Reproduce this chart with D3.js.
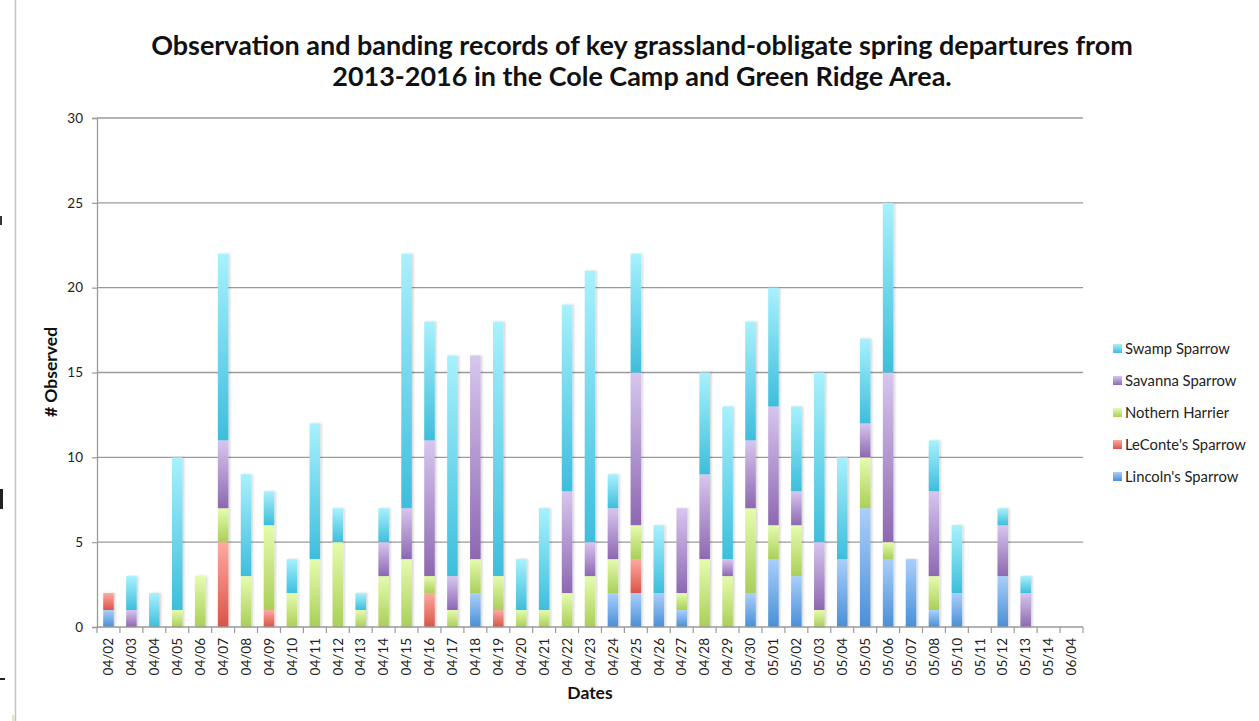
<!DOCTYPE html>
<html>
<head>
<meta charset="utf-8">
<script src="https://cdn.jsdelivr.net/npm/d3@7"></script>
<style>
  html, body { margin: 0; padding: 0; background: #fff; }
  svg { display: block; }
  text { font-family: Lato, "Open Sans", sans-serif; }
</style>
</head>
<body>
<svg id="chart" width="1259" height="721"></svg>
<script>
// Survey dates (05/09 had no entry)
const dates = ["04/02","04/03","04/04","04/05","04/06","04/07","04/08","04/09","04/10","04/11",
  "04/12","04/13","04/14","04/15","04/16","04/17","04/18","04/19","04/20","04/21",
  "04/22","04/23","04/24","04/25","04/26","04/27","04/28","04/29","04/30","05/01",
  "05/02","05/03","05/04","05/05","05/06","05/07","05/08","05/10","05/11","05/12",
  "05/13","05/14","06/04"];

// Counts per species, stacked bottom to top in this order
const lincolnsSparrow = [1,0,0,0,0,0,0,0,0,0, 0,0,0,0,0,0,2,0,0,0, 0,0,2,2,2,1,0,0,2,4, 3,0,4,7,4,4,1,2,0,3, 0,0,0];
const leContesSparrow = [1,0,0,0,0,5,0,1,0,0, 0,0,0,0,2,0,0,1,0,0, 0,0,0,2,0,0,0,0,0,0, 0,0,0,0,0,0,0,0,0,0, 0,0,0];
const northernHarrier = [0,0,0,1,3,2,3,5,2,4, 5,1,3,4,1,1,2,2,1,1, 2,3,2,2,0,1,4,3,5,2, 3,1,0,3,1,0,2,0,0,0, 0,0,0];
const savannaSparrow  = [0,1,0,0,0,4,0,0,0,0, 0,0,2,3,8,2,12,0,0,0, 6,2,3,9,0,5,5,1,4,7, 2,4,0,2,10,0,5,0,0,3, 2,0,0];
const swampSparrow    = [0,2,2,9,0,11,6,2,2,8, 2,1,2,15,7,13,0,15,3,6, 11,16,2,7,4,0,6,9,7,7, 5,10,6,5,10,0,3,4,0,1, 1,0,0];

const seriesNames = ["Lincoln's Sparrow","LeConte's Sparrow","Nothern Harrier","Savanna Sparrow","Swamp Sparrow"];
const seriesValues = [lincolnsSparrow, leContesSparrow, northernHarrier, savannaSparrow, swampSparrow];
const yTicks = [0,5,10,15,20,25,30];

const titleLines = [
  "Observation and banding records of key grassland-obligate spring departures from",
  "2013-2016 in the Cole Camp and Green Ridge Area."
];

// gradient stops per series: [top (light), bottom (dark)]
const palette = {
  "Lincoln's Sparrow": ["#a9cffb", "#4a8fd6"],
  "LeConte's Sparrow": ["#fdaaa2", "#da5447"],
  "Nothern Harrier":   ["#e6fcae", "#aacf58"],
  "Savanna Sparrow":   ["#d7c6ee", "#8d68b1"],
  "Swamp Sparrow":     ["#a8f1fd", "#3dbedc"]
};

const rows = dates.map((d, i) => {
  const r = { date: d };
  seriesNames.forEach((s, k) => r[s] = seriesValues[k][i]);
  return r;
});

const svg = d3.select("#chart");
const W = 1259, H = 721;
const plot = { left: 97, right: 1083, top: 118, bottom: 627 };

// stray page edge on the left of the capture
svg.append("line").attr("x1", 15.5).attr("x2", 15.5).attr("y1", 0).attr("y2", H)
  .attr("stroke", "#c4c4c4").attr("stroke-width", 1.5);
svg.append("rect").attr("x", 0).attr("y", 216).attr("width", 2).attr("height", 9).attr("fill", "#333");
svg.append("rect").attr("x", 0).attr("y", 489).attr("width", 3).attr("height", 20).attr("fill", "#222");
svg.append("rect").attr("x", 0).attr("y", 678).attr("width", 5).attr("height", 2).attr("fill", "#222");
svg.append("rect").attr("x", 12).attr("y", 715).attr("width", 3).attr("height", 6).attr("fill", "#e8e2d0");

const defs = svg.append("defs");
seriesNames.forEach((s, k) => {
  const g = defs.append("linearGradient").attr("id", "grad" + k)
    .attr("x1", 0).attr("y1", 0).attr("x2", 0).attr("y2", 1);
  g.append("stop").attr("offset", "0%").attr("stop-color", palette[s][0]);
  g.append("stop").attr("offset", "100%").attr("stop-color", palette[s][1]);
});
const shadow = defs.append("filter").attr("id", "shadow")
  .attr("x", "-50%").attr("y", "-10%").attr("width", "200%").attr("height", "120%");
shadow.append("feDropShadow").attr("dx", 1.5).attr("dy", 0).attr("stdDeviation", 1)
  .attr("flood-color", "#000").attr("flood-opacity", 0.18);

const x = d3.scaleBand().domain(dates).range([plot.left, plot.right]).padding(0);
const y = d3.scaleLinear().domain([0, 30]).range([plot.bottom, plot.top]);
const step = x.step();
const barW = step * 0.46;

// gridlines
svg.append("g").selectAll("line").data(yTicks.filter(t => t > 0)).join("line")
  .attr("x1", plot.left).attr("x2", plot.right)
  .attr("y1", d => y(d)).attr("y2", d => y(d))
  .attr("stroke", "#9a9a9a").attr("stroke-width", 1.3);

// y axis
const yAxis = svg.append("g").attr("transform", `translate(${plot.left},0)`)
  .call(d3.axisLeft(y).tickValues(yTicks).tickSize(5).tickPadding(9));
yAxis.select(".domain").attr("stroke", "#9a9a9a").attr("stroke-width", 1.3);
yAxis.selectAll(".tick line").attr("stroke", "#9a9a9a").attr("stroke-width", 1.2);
yAxis.selectAll(".tick text").attr("font-family", "Lato, sans-serif").attr("font-size", 13.5).attr("fill", "#222");

// stacked bars
const stack = d3.stack().keys(seriesNames)(rows);
const barsG = svg.append("g").attr("filter", "url(#shadow)");
stack.forEach((layer, k) => {
  barsG.append("g").selectAll("rect")
    .data(layer.filter(d => d[1] - d[0] > 0)).join("rect")
    .attr("x", d => x(d.data.date) + (step - barW) / 2)
    .attr("width", barW)
    .attr("y", d => y(d[1]))
    .attr("height", d => y(d[0]) - y(d[1]))
    .attr("fill", `url(#grad${k})`);
});

// x axis baseline with boundary ticks
svg.append("line").attr("x1", plot.left).attr("x2", plot.right)
  .attr("y1", plot.bottom).attr("y2", plot.bottom)
  .attr("stroke", "#9a9a9a").attr("stroke-width", 1.3);
const bounds = dates.map(d => x(d)).concat([plot.right]);
svg.append("g").selectAll("line").data(bounds).join("line")
  .attr("x1", d => d).attr("x2", d => d)
  .attr("y1", plot.bottom).attr("y2", plot.bottom + 6)
  .attr("stroke", "#9a9a9a").attr("stroke-width", 1.2);

const xAxis = svg.append("g").attr("transform", `translate(0,${plot.bottom})`)
  .call(d3.axisBottom(x).tickSize(0).tickPadding(0));
xAxis.select(".domain").remove();
xAxis.selectAll(".tick text")
  .attr("font-family", "Lato, sans-serif").attr("font-size", 13.5).attr("fill", "#222")
  .attr("transform", "rotate(-90)")
  .attr("text-anchor", "end").attr("dy", "0.35em")
  .attr("x", -11).attr("y", 0);

// axis titles
svg.append("text").attr("x", 590).attr("y", 699).attr("text-anchor", "middle")
  .attr("font-size", 17.5).attr("font-weight", 700).attr("fill", "#111").text("Dates");
svg.append("text").attr("transform", "translate(57,372) rotate(-90)").attr("text-anchor", "middle")
  .attr("font-size", 17.5).attr("font-weight", 700).attr("fill", "#111").text("# Observed");

// title, sized so the first line spans its measured width
const titleG = svg.append("g");
const tl = titleG.selectAll("text").data(titleLines).join("text")
  .attr("x", 642).attr("y", (d, i) => 55 + i * 31)
  .attr("text-anchor", "middle").attr("font-weight", 700).attr("fill", "#111")
  .attr("font-size", 22).text(d => d);
const w0 = tl.nodes()[0].getComputedTextLength();
const fs = 22 * 982 / w0;
tl.attr("font-size", fs);

// legend (top entry = top of the stack)
const legendItems = seriesNames.slice().reverse();
const lg = svg.append("g").selectAll("g").data(legendItems).join("g")
  .attr("transform", (d, i) => `translate(1113,${349 + i * 32})`);
lg.append("rect").attr("x", 0).attr("y", -5).attr("width", 9).attr("height", 9)
  .attr("fill", d => `url(#grad${seriesNames.indexOf(d)})`);
lg.append("text").attr("x", 12).attr("y", 0).attr("dy", "0.35em")
  .attr("font-size", 14.8).attr("fill", "#222").text(d => d);
</script>
</body>
</html>
